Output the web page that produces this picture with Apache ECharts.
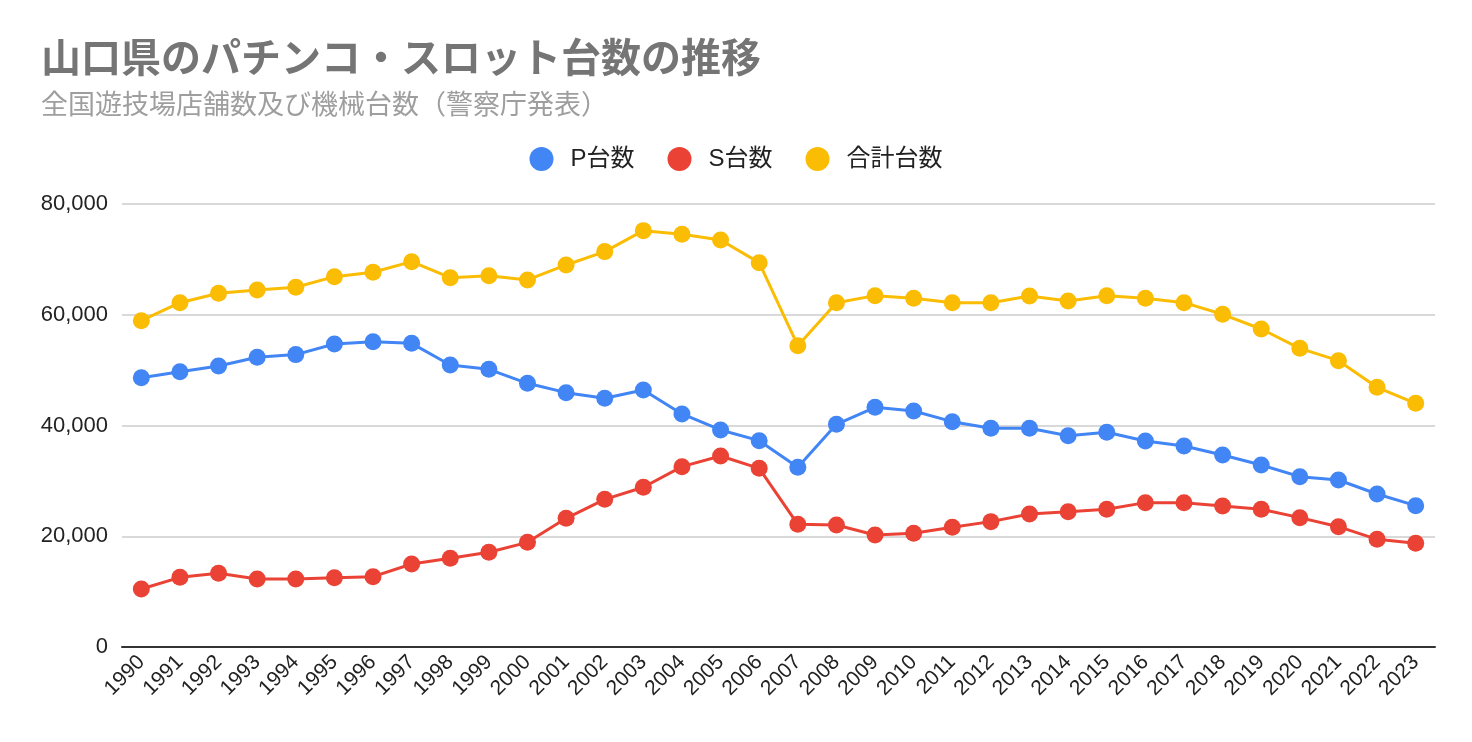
<!DOCTYPE html>
<html><head><meta charset="utf-8">
<script src="https://cdn.jsdelivr.net/npm/echarts@6/dist/echarts.min.js"></script>
<style>html,body{margin:0;padding:0;background:#fff}#c{width:1472px;height:742px}</style>
</head><body><div id="c"></div>
<script>
const years = ['1990','1991','1992','1993','1994','1995','1996','1997','1998','1999','2000','2001','2002','2003','2004','2005','2006','2007','2008','2009','2010','2011','2012','2013','2014','2015','2016','2017','2018','2019','2020','2021','2022','2023'];
const pUnits = [48640,49720,50750,52310,52800,54720,55140,54840,50930,50150,47620,45930,44910,46410,42080,39190,37260,32450,40220,43280,42620,40690,39490,39490,38160,38770,37200,36300,34680,32870,30760,30160,27630,25520];
const sUnits = [10470,12580,13300,12280,12280,12520,12700,14990,16010,17100,18900,23240,26670,28840,32570,34490,32270,22150,22030,20230,20530,21610,22640,24020,24440,24860,26070,26070,25460,24860,23360,21730,19440,18720];
const totalUnits = [58930,62180,63880,64470,64960,66880,67670,69590,66700,67060,66280,68990,71400,75190,74530,73500,69410,54420,62180,63450,62970,62180,62180,63390,62490,63450,62970,62180,60080,57430,53940,51710,46900,44010];
const seriesNames = ['P台数','S台数','合計台数'];
const yTicks = [0,20000,40000,60000,80000];

const FONT = '"Liberation Sans", Arial, "Noto Sans CJK JP", sans-serif';
const colors = ['#4285F4','#EA4335','#FBBC04'];
const chart = echarts.init(document.getElementById('c'));
function mk(name, data, color){
  return {name, type:'line', data, color, symbol:'circle', symbolSize:17,
    lineStyle:{width:3, color}, itemStyle:{color}, emphasis:{disabled:true}};
}
chart.setOption({
  animation:false,
  textStyle:{fontFamily:FONT},
  title:{text:'山口県のパチンコ・スロット台数の推移', subtext:'全国遊技場店舗数及び機械台数（警察庁発表）',
    left:36, top:36, itemGap:12,
    textStyle:{fontSize:40, fontWeight:'bold', color:'#757575', fontFamily:FONT},
    subtextStyle:{fontSize:27, color:'#9e9e9e', fontFamily:FONT}},
  legend:{data:seriesNames, top:142, left:'center', icon:'circle', itemWidth:24, itemHeight:24, itemGap:33,
    textStyle:{fontSize:24, color:'#222', fontFamily:FONT, padding:[0,0,0,12]}},
  grid:{left:122, right:37, top:204, bottom:95, containLabel:false},
  xAxis:{type:'category', data:years, boundaryGap:true,
    axisLine:{lineStyle:{color:'#333', width:2}}, axisTick:{show:false},
    axisLabel:{rotate:45, fontSize:21, color:'#222', interval:0, margin:12, fontFamily:FONT}},
  yAxis:{type:'value', min:0, max:80000, interval:20000,
    axisLine:{show:false}, axisTick:{show:false},
    splitLine:{lineStyle:{color:'#cccccc', width:1.5}},
    axisLabel:{fontSize:22, color:'#222', margin:14, fontFamily:FONT,
      formatter:v=>yTicks.includes(v)?v.toLocaleString('en-US'):''}},
  series:[mk(seriesNames[0], pUnits, colors[0]), mk(seriesNames[1], sUnits, colors[1]), mk(seriesNames[2], totalUnits, colors[2])]
});
</script></body></html>
